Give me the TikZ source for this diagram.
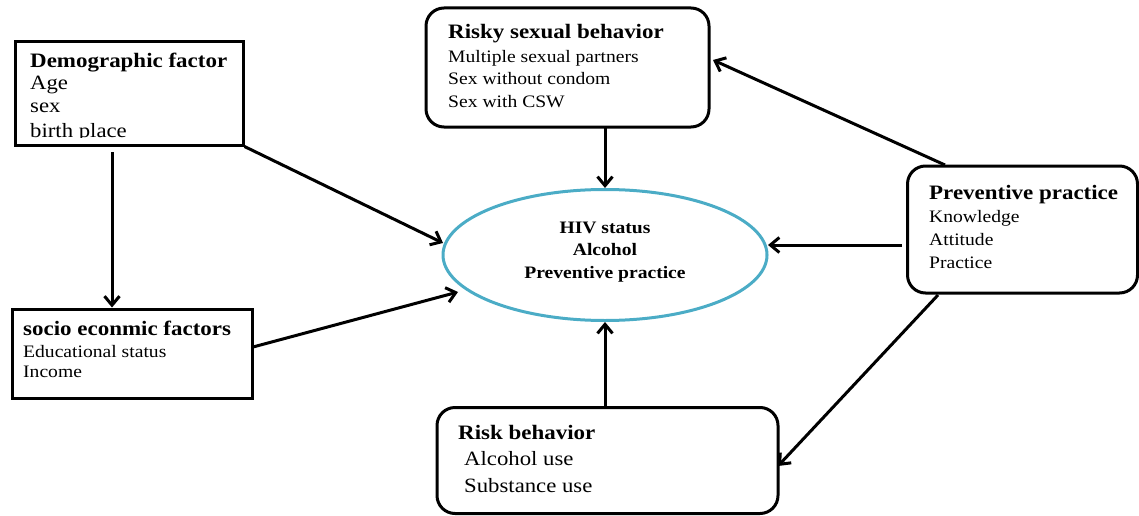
\documentclass[tikz,border=0pt]{standalone}
\usepackage{fontspec}
\setmainfont[FakeStretch=1.12]{Liberation Serif}
\usetikzlibrary{arrows.meta,shapes.geometric}
\definecolor{ellblue}{RGB}{75,172,198}
\tikzset{
  sqbox/.style={draw=black, line width=3pt, rectangle, inner sep=0pt},
  rbox/.style={sqbox, rounded corners=18pt},
  ttl/.style={anchor=base west, inner sep=0pt, font=\fontsize{20.5}{24}\selectfont\bfseries},
  bdy/.style={anchor=base west, inner sep=0pt, font=\fontsize{17.5}{21}\selectfont},
  bdyL/.style={anchor=base west, inner sep=0pt, font=\fontsize{20.3}{24}\selectfont},
  etxt/.style={anchor=base, inner sep=0pt, font=\fontsize{17.5}{21}\selectfont\bfseries},
  conn/.style={line width=3pt, -{Straight Barb[length=9pt,width=15pt]}},
}
\begin{document}
\begin{tikzpicture}[x=1pt,y=-1pt]
\useasboundingbox (0,0) rectangle (1139,516);

% Demographic factor
\node[sqbox, minimum width=228pt, minimum height=103pt] (demo) at (129,93.5) {};
\begin{scope}
  \clip (15,42) rectangle (243,137.5);
  \node[ttl] (demoT) at (30,68) {Demographic factor};
  \node[bdyL] (demo1) at (30,90) {Age};
  \node[bdyL] (demo2) at (30,113) {sex};
  \node[bdyL] (demo3) at (30,137.5) {birth place};
\end{scope}

% socio economic factors
\node[sqbox, minimum width=240pt, minimum height=89pt] (socio) at (132,353.5) {};
\node[ttl] (socioT) at (23,335) {socio econmic factors};
\node[bdy] (socio1) at (23,357) {Educational status};
\node[bdy] (socio2) at (23,377) {Income};

% Risky sexual behavior
\node[rbox, minimum width=283pt, minimum height=119pt] (risky) at (567.5,67.5) {};
\node[ttl] (riskyT) at (448,39) {Risky sexual behavior};
\node[bdy] (risky1) at (448,63) {Multiple sexual partners};
\node[bdy] (risky2) at (448,85) {Sex without condom};
\node[bdy] (risky3) at (448,107) {Sex with CSW};

% Central ellipse
\node[ellipse, draw=ellblue, line width=3pt, minimum width=324pt, minimum height=131pt, inner sep=0pt] (ell) at (605,255) {};
\node[etxt] (ell1) at (605,233) {HIV status};
\node[etxt] (ell2) at (605,255) {Alcohol};
\node[etxt] (ell3) at (605,278) {Preventive practice};

% Preventive practice
\node[rbox, minimum width=230pt, minimum height=127pt] (prev) at (1022.5,229.5) {};
\node[ttl] (prevT) at (929,199) {Preventive practice};
\node[bdy] (prev1) at (929,222) {Knowledge};
\node[bdy] (prev2) at (929,245) {Attitude};
\node[bdy] (prev3) at (929,268) {Practice};

% Risk behavior
\node[rbox, minimum width=341pt, minimum height=106pt] (riskb) at (607.5,460.5) {};
\node[ttl] (riskbT) at (458,439) {Risk behavior};
\node[bdyL] (riskb1) at (464,465) {Alcohol use};
\node[bdyL] (riskb2) at (464,492) {Substance use};

% connector end points
\coordinate (dA) at (112,152);
\coordinate (dB) at (112,307.5);
\coordinate (eDemo) at (443,243);
\coordinate (sA) at (253,347);
\coordinate (eSocio) at (458,292);
\coordinate (rA) at (605,128);
\coordinate (eTop) at (605,188);
\coordinate (pA) at (945,165);
\coordinate (rTip) at (713,60);
\coordinate (pB) at (902,245);
\coordinate (eRight) at (768,245);
\coordinate (bA) at (605,406);
\coordinate (eBot) at (605,322);
\coordinate (pC) at (938,295);
\coordinate (bTip) at (778,466);

% connectors
\draw[conn] (dA) -- (dB);
\draw[conn] (demo.south east) -- (eDemo);
\draw[conn] (sA) -- (eSocio);
\draw[conn] (rA) -- (eTop);
\draw[conn] (pA) -- (rTip);
\draw[conn] (pB) -- (eRight);
\draw[conn] (bA) -- (eBot);
\draw[conn] (pC) -- (bTip);
\end{tikzpicture}
\end{document}
